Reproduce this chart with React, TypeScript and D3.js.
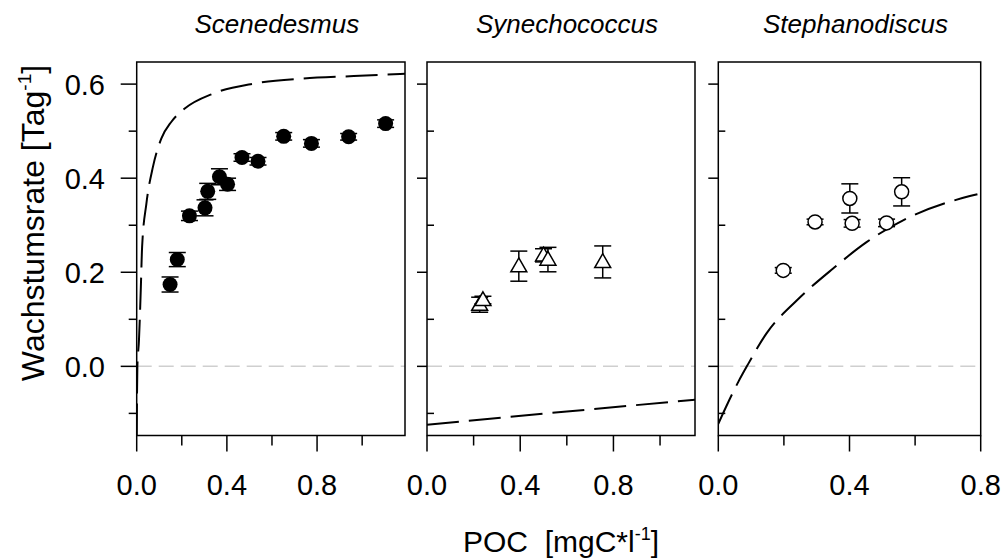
import React from "react";
import * as d3 from "d3";

// ---------- data ----------
const panelTitles = ["Scenedesmus", "Synechococcus", "Stephanodiscus"];
const xDomainMax = [1.19, 1.15, 0.8];

// [POC, growth rate, error]
const scenedesmusPts: [number, number, number][] = [
  [0.148, 0.174, 0.016],
  [0.18, 0.227, 0.015],
  [0.234, 0.32, 0.01],
  [0.303, 0.337, 0.017],
  [0.315, 0.372, 0.017],
  [0.367, 0.403, 0.017],
  [0.403, 0.387, 0.013],
  [0.467, 0.444, 0.008],
  [0.538, 0.436, 0.008],
  [0.652, 0.489, 0.008],
  [0.775, 0.474, 0.008],
  [0.94, 0.488, 0.007],
  [1.104, 0.516, 0.008],
];
const synechococcusPts: [number, number, number][] = [
  [0.226, 0.131, 0.016],
  [0.24, 0.141, 0.008],
  [0.394, 0.213, 0.032],
  [0.5, 0.236, 0.014],
  [0.519, 0.227, 0.026],
  [0.754, 0.222, 0.034],
];
const stephanodiscusPts: [number, number, number][] = [
  [0.198, 0.204, 0.006],
  [0.295, 0.307, 0.006],
  [0.408, 0.304, 0.008],
  [0.401, 0.357, 0.031],
  [0.513, 0.305, 0.008],
  [0.559, 0.371, 0.03],
];

// model curves
const scenedesmusCurve: [number, number][] = [
  [0.0, -0.147], [0.003, 0.0], [0.01, 0.055], [0.018, 0.162], [0.024, 0.254],
  [0.043, 0.346], [0.072, 0.424], [0.109, 0.484], [0.154, 0.52], [0.213, 0.548],
  [0.34, 0.58], [0.518, 0.601], [0.739, 0.612], [0.963, 0.617], [1.19, 0.622],
];
const synechococcusCurve: [number, number][] = [
  [0.0, -0.124], [0.6, -0.096], [1.15, -0.071],
];
const stephanodiscusCurve: [number, number][] = [
  [0.0, -0.122], [0.061, -0.033], [0.087, 0.0], [0.147, 0.07], [0.239, 0.14],
  [0.35, 0.208], [0.452, 0.264], [0.574, 0.314], [0.767, 0.362], [0.79, 0.366],
];

const yMajorTicks = [0, 0.2, 0.4, 0.6];
const yMinorTicks = [-0.1, 0.1, 0.3, 0.5];
const xMajorTicks = [0, 0.4, 0.8];
const xMinorTicks = [0.2, 0.6, 1.0];

const allPts = [scenedesmusPts, synechococcusPts, stephanodiscusPts];
const allCurves = [scenedesmusCurve, synechococcusCurve, stephanodiscusCurve];
const markerKinds = ["filledCircle", "triangle", "openCircle"];

// ---------- layout ----------
const W = 1007;
const H = 560;
const panelLeft = [136.7, 427, 718.3];
const panelRight = [405, 695, 980.7];
const top = 62;
const bottom = 435.5;
const FONT = "Arial, 'Liberation Sans', Helvetica, sans-serif";
const TICK_FS = 29;

const y = d3.scaleLinear().domain([-0.147, 0.647]).range([bottom, top]);

function Panel({ i }: { i: number }) {
  const x = d3.scaleLinear().domain([0, xDomainMax[i]]).range([panelLeft[i], panelRight[i]]);
  const line = d3
    .line<[number, number]>()
    .x((d) => x(d[0]))
    .y((d) => y(d[1]))
    .curve(d3.curveMonotoneX);
  const pts = allPts[i];
  const kind = markerKinds[i];
  const tri = d3.symbol().type(d3.symbolTriangle).size(110)()!;
  const clipId = `clip${i}`;
  const xMinor = xMinorTicks.filter((t) => t <= xDomainMax[i] + 1e-9);
  return (
    <g>
      <defs>
        <clipPath id={clipId}>
          <rect x={panelLeft[i]} y={top} width={panelRight[i] - panelLeft[i]} height={bottom - top} />
        </clipPath>
      </defs>
      {/* zero line */}
      <line
        x1={panelLeft[i]}
        x2={panelRight[i]}
        y1={y(0)}
        y2={y(0)}
        stroke="#cfcfcf"
        strokeWidth={1.5}
        strokeDasharray="15,7"
      />
      {/* model curve */}
      <path
        d={line(allCurves[i]) || ""}
        fill="none"
        stroke="#000"
        strokeWidth={2}
        strokeDasharray="32,10"
        clipPath={`url(#${clipId})`}
      />
      {/* error bars */}
      {pts.map((p, k) => (
        <g key={"e" + k} stroke="#000" strokeWidth={1.5}>
          <line x1={x(p[0])} x2={x(p[0])} y1={y(p[1] - p[2])} y2={y(p[1] + p[2])} />
          <line x1={x(p[0]) - 8.5} x2={x(p[0]) + 8.5} y1={y(p[1] - p[2])} y2={y(p[1] - p[2])} />
          <line x1={x(p[0]) - 8.5} x2={x(p[0]) + 8.5} y1={y(p[1] + p[2])} y2={y(p[1] + p[2])} />
        </g>
      ))}
      {/* markers */}
      {pts.map((p, k) =>
        kind === "filledCircle" ? (
          <circle key={"m" + k} cx={x(p[0])} cy={y(p[1])} r={7.5} fill="#000" />
        ) : kind === "openCircle" ? (
          <circle key={"m" + k} cx={x(p[0])} cy={y(p[1])} r={7} fill="#fff" stroke="#000" strokeWidth={1.5} />
        ) : (
          <path
            key={"m" + k}
            d={tri}
            transform={`translate(${x(p[0])},${y(p[1]) + 1})`}
            fill="#fff"
            stroke="#000"
            strokeWidth={1.5}
          />
        )
      )}
      {/* frame */}
      <rect
        x={panelLeft[i]}
        y={top}
        width={panelRight[i] - panelLeft[i]}
        height={bottom - top}
        fill="none"
        stroke="#000"
        strokeWidth={1.5}
      />
      {/* y ticks */}
      {yMajorTicks.map((t) => (
        <line
          key={"ym" + t}
          x1={panelLeft[i] - (i === 0 ? 16 : 10)}
          x2={panelLeft[i]}
          y1={y(t)}
          y2={y(t)}
          stroke="#000"
          strokeWidth={1.5}
        />
      ))}
      {yMinorTicks.map((t) => (
        <line
          key={"yn" + t}
          x1={i === 0 ? panelLeft[i] - 8 : panelLeft[i]}
          x2={i === 0 ? panelLeft[i] : panelLeft[i] + 7}
          y1={y(t)}
          y2={y(t)}
          stroke="#000"
          strokeWidth={1.5}
        />
      ))}
      {i === 0 &&
        yMajorTicks.map((t) => (
          <text
            key={"yl" + t}
            x={105}
            y={y(t) + 10.5}
            textAnchor="end"
            fontSize={TICK_FS}
            fontFamily={FONT}
            fill="#000"
          >
            {d3.format(".1f")(t)}
          </text>
        ))}
      {/* x ticks */}
      {xMajorTicks.map((t) => (
        <g key={"xm" + t}>
          <line x1={x(t)} x2={x(t)} y1={bottom} y2={bottom + 16} stroke="#000" strokeWidth={1.5} />
          <text x={x(t)} y={495} textAnchor="middle" fontSize={TICK_FS} fontFamily={FONT} fill="#000">
            {d3.format(".1f")(t)}
          </text>
        </g>
      ))}
      {xMinor.map((t) => (
        <line key={"xn" + t} x1={x(t)} x2={x(t)} y1={bottom} y2={bottom + 10} stroke="#000" strokeWidth={1.5} />
      ))}
      {/* title */}
      <text
        x={(panelLeft[i] + panelRight[i]) / 2 + 6}
        y={33}
        textAnchor="middle"
        fontSize={26}
        fontStyle="italic"
        fontFamily={FONT}
        fill="#000"
      >
        {panelTitles[i]}
      </text>
    </g>
  );
}

export default function App() {
  return (
    <svg
      width={W}
      height={H}
      viewBox={`0 0 ${W} ${H}`}
      style={{ position: "absolute", left: 0, top: 0, background: "#fff" }}
    >
      <rect x={0} y={0} width={W} height={H} fill="#fff" />
      {[0, 1, 2].map((i) => (
        <Panel key={i} i={i} />
      ))}
      <text
        transform="translate(44,223) rotate(-90)"
        textAnchor="middle"
        fontSize={32}
        fontFamily={FONT}
        fill="#000"
      >
        Wachstumsrate [Tag
        <tspan fontSize={19} dy={-13}>-1</tspan>
        <tspan dy={13}>]</tspan>
      </text>
      <text x={561} y={552} textAnchor="middle" fontSize={30} fontFamily={FONT} fill="#000">
        {"POC\u00a0\u00a0[mgC*l"}
        <tspan fontSize={18} dy={-12}>-1</tspan>
        <tspan dy={12}>]</tspan>
      </text>
    </svg>
  );
}
